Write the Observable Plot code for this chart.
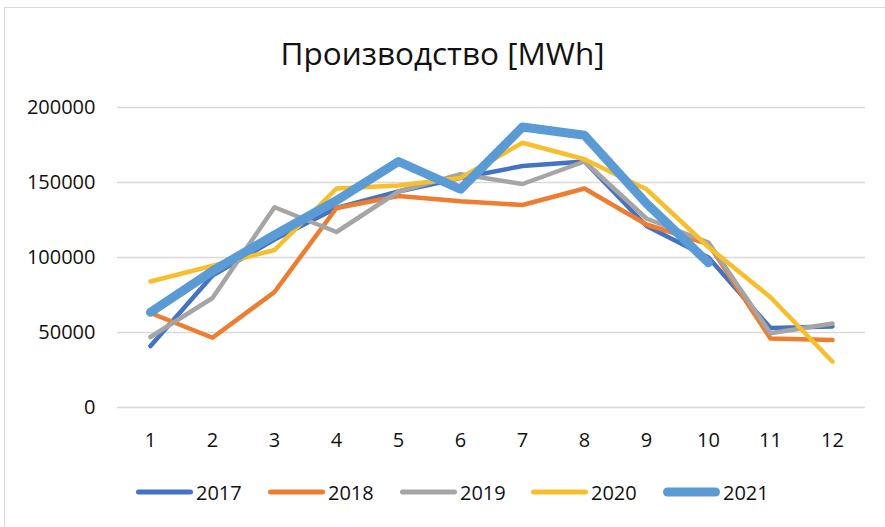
<!DOCTYPE html>
<html>
<head>
<meta charset="utf-8">
<script src="https://cdn.jsdelivr.net/npm/d3@7"></script>
<script src="https://cdn.jsdelivr.net/npm/@observablehq/plot@0.6"></script>
<style>
  html, body { margin: 0; padding: 0; background: #fff; }
  #chart { position: relative; width: 885px; height: 527px; overflow: hidden; font-family: "Open Sans", "Liberation Sans", sans-serif; color: #111; }
  #frame { position: absolute; left: 4px; top: 7px; width: 1000px; height: 700px; border: 1.5px solid #d9d9d9; box-sizing: border-box; }
  #title { position: absolute; left: 0; top: 33px; width: 885px; text-align: center; font-size: 31.5px; line-height: 40px; }
  #plot { position: absolute; left: 0; top: 80px; }
  #legend { position: absolute; left: 0; top: 478px; width: 885px; height: 28px; }
  .item { position: absolute; top: 0; height: 28px; display: flex; align-items: center; font-size: 20px; }
  .item svg { display: block; margin-right: 3px; }
</style>
</head>
<body>
<div id="chart">
  <div id="frame"></div>
  <div id="title">Производство [MWh]</div>
  <div id="plot"></div>
  <div id="legend"></div>
</div>
<script>
const months = [1, 2, 3, 4, 5, 6, 7, 8, 9, 10, 11, 12];
const years = ["2017", "2018", "2019", "2020", "2021"];
const v2017 = [41000, 88000, 112000, 133000, 144000, 153000, 161000, 164000, 121000, 100000, 53000, 54000];
const v2018 = [63000, 46500, 77000, 133000, 141000, 137500, 135000, 146000, 122000, 109000, 46000, 45000];
const v2019 = [47000, 73000, 133500, 117000, 144000, 155500, 149000, 164000, 126000, 110000, 49500, 56000];
const v2020 = [84000, 94500, 105000, 146000, 148000, 153000, 176500, 165500, 145500, 107000, 73500, 30500];
const v2021 = [63500, 91000, 115000, 138000, 164000, 145500, 187000, 181500, 136000, 96500, null, null];
const yTicks = [0, 50000, 100000, 150000, 200000];
const colors = ["#4472C4", "#ED7D31", "#A5A5A5", "#F7BF2D", "#5B9BD5"];
const widths = [4.5, 4.5, 4.5, 4.5, 9];

const seriesValues = [v2017, v2018, v2019, v2020, v2021];
const data = [];
years.forEach((yr, i) => {
  months.forEach((m, j) => {
    const v = seriesValues[i][j];
    if (v != null) data.push({year: yr, month: m, value: v});
  });
});

const marks = [
  Plot.gridY(yTicks, {stroke: "#d9d9d9", strokeOpacity: 1, strokeWidth: 1.3}),
  Plot.axisY(yTicks, {tickSize: 0, tickPadding: 22, tickFormat: d => String(d), fontSize: 20, fill: "#111", label: null}),
  Plot.axisX(months, {tickSize: 0, tickPadding: 25, fontSize: 20, fill: "#111", label: null})
];
years.forEach((yr, i) => {
  marks.push(Plot.line(data.filter(d => d.year === yr), {
    x: "month", y: "value",
    stroke: colors[i], strokeWidth: widths[i],
    strokeLinecap: "round", strokeLinejoin: "round"
  }));
});

const chart = Plot.plot({
  width: 885,
  height: 380,
  marginTop: 27,
  marginBottom: 53,
  marginLeft: 117,
  marginRight: 20,
  style: {fontFamily: "'Open Sans', 'Liberation Sans', sans-serif", background: "transparent", overflow: "visible"},
  x: {type: "point", domain: months, padding: 0.5},
  y: {domain: [0, 200000]},
  marks
});
document.getElementById("plot").appendChild(chart);

// Legend
const legendX = [136, 268, 400, 531, 663];
const legend = document.getElementById("legend");
years.forEach((yr, i) => {
  const item = document.createElement("div");
  item.className = "item";
  item.style.left = legendX[i] + "px";
  const w = 57;
  const lw = widths[i] === 9 ? 9 : 5;
  item.innerHTML = `<svg width="${w}" height="14"><line x1="${lw/2}" x2="${w - lw/2}" y1="7" y2="7" stroke="${colors[i]}" stroke-width="${lw}" stroke-linecap="round"/></svg><span>${yr}</span>`;
  legend.appendChild(item);
});
</script>
</body>
</html>
